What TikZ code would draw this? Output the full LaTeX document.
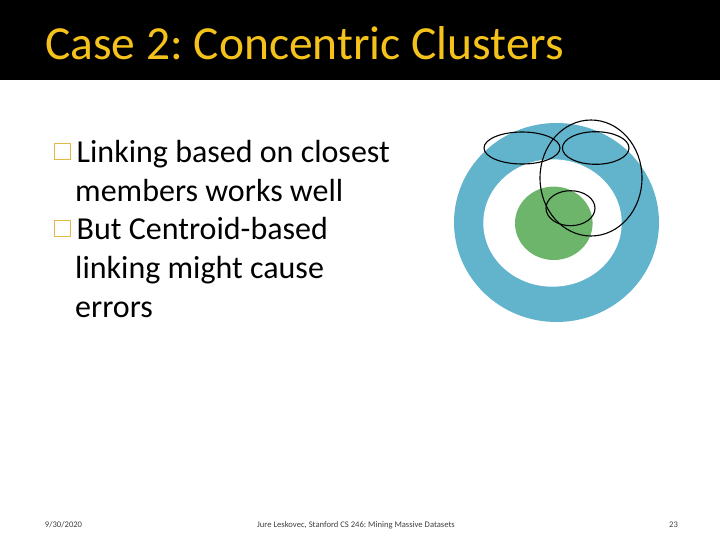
\documentclass[tikz,border=0pt]{standalone}
\usepackage{fontspec}
\setmainfont{Carlito}
\frenchspacing
\definecolor{titleyellow}{HTML}{F4C21B}
\definecolor{bulletyellow}{HTML}{E2B947}
\definecolor{ringblue}{HTML}{62B3CC}
\definecolor{coregreen}{HTML}{6CB56B}
\definecolor{footgray}{HTML}{404040}
\tikzset{
  bodytext/.style={anchor=base west, inner sep=0pt, font=\fontsize{32}{38}\selectfont},
  bulletbox/.style={draw=bulletyellow, line width=1.3pt, fill=none},
  foottext/.style={anchor=base, inner sep=0pt, text=footgray, font=\fontsize{8.6}{10}\selectfont},
  loop/.style={draw=black, line width=1.1pt}
}
\begin{document}
\begin{tikzpicture}[x=1pt,y=-1pt]
\useasboundingbox (0,0) rectangle (720,540);
\fill[white] (0,0) rectangle (720,540);
% title bar
\fill[black] (0,0) rectangle (720,80);
\node[anchor=base west, inner sep=0pt, text=titleyellow, font=\fontsize{47.5}{50}\selectfont] (title) at (45,60) {Case 2: Concentric Clusters};
% bullets
\draw[bulletbox] (54.5,143.5) rectangle (70.5,159.5);
\node[bodytext] (l1) at (76.5,163) {Linking based on closest};
\node[bodytext] (l2) at (75,201.5) {members works well};
\draw[bulletbox] (54.5,220.5) rectangle (70.5,236.5);
\node[bodytext] (l3) at (76.5,240) {But Centroid-based};
\node[bodytext] (l4) at (75,278.5) {linking might cause};
\node[bodytext] (l5) at (75,317) {errors};
% concentric clusters
\fill[ringblue] (556.5,222.5) ellipse [x radius=102.5pt, y radius=99.5pt];
\fill[white] (552.5,223) ellipse [x radius=69.2pt, y radius=63.7pt];
\fill[coregreen] (553.8,223.3) ellipse [x radius=38.8pt, y radius=36.7pt];
% cluster outlines
\draw[loop] (522,148) ellipse [x radius=38pt, y radius=16pt];
\draw[loop] (595.7,148) ellipse [x radius=33.3pt, y radius=16.3pt];
\draw[loop] (591,178) ellipse [x radius=51pt, y radius=58pt];
\draw[loop] (570.5,208.2) ellipse [x radius=24.5pt, y radius=17.5pt];
% footer
\node[foottext] (date) at (63.5,527) {9/30/2020};
\node[foottext] (credit) at (356,527) {Jure Leskovec, Stanford CS 246: Mining Massive Datasets};
\node[foottext] (page) at (673.5,527) {23};
\end{tikzpicture}
\end{document}
